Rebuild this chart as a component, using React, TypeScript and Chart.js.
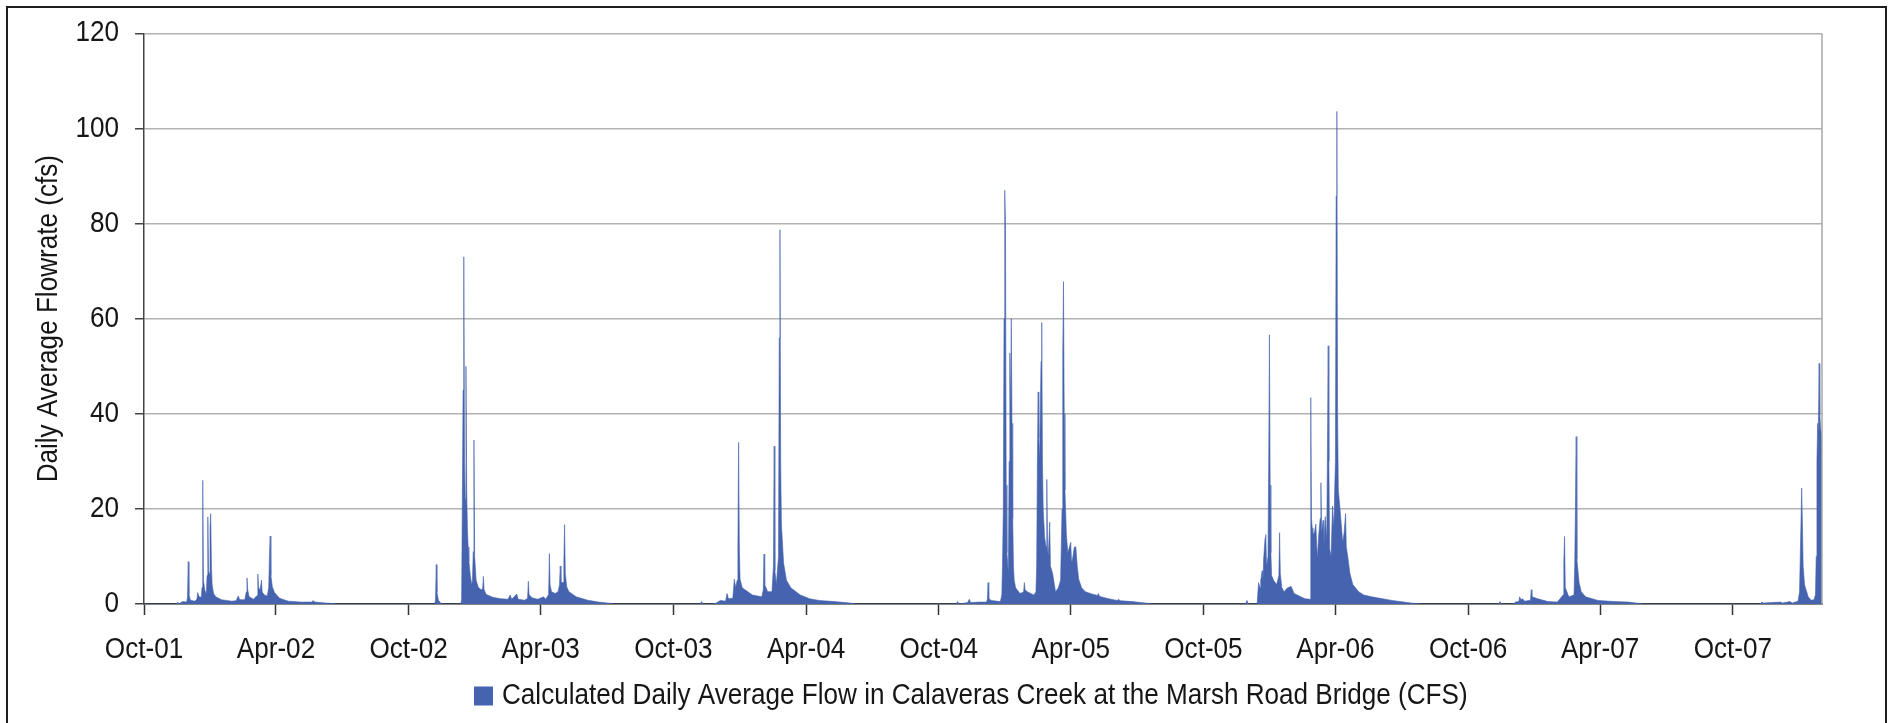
import React, { useEffect, useRef } from 'react';
import { Chart, registerables } from 'chart.js';

Chart.register(...registerables);

const SERIES_LABEL = 'Calculated Daily Average Flow in Calaveras Creek at the Marsh Road Bridge (CFS)';
const Y_TITLE = 'Daily Average Flowrate (cfs)';
const START_DATE = '2001-10-01';
const END_DATE = '2008-02-01';

const Y_MIN = 0;
const Y_MAX = 120;
const Y_STEP = 20;

const tickDates = [
  '2001-10-01', '2002-04-01', '2002-10-01', '2003-04-01', '2003-10-01', '2004-04-01', '2004-10-01',
  '2005-04-01', '2005-10-01', '2006-04-01', '2006-10-01', '2007-04-01', '2007-10-01',
];
const tickLabels = [
  'Oct-01', 'Apr-02', 'Oct-02', 'Apr-03', 'Oct-03', 'Apr-04', 'Oct-04',
  'Apr-05', 'Oct-05', 'Apr-06', 'Oct-06', 'Apr-07', 'Oct-07',
];

// Water year 2002
const wy2002Dates = [
  '2001-10-01', '2001-11-14', '2001-11-16', '2001-11-19', '2001-11-23', '2001-11-29', '2001-11-30',
  '2001-12-01', '2001-12-02', '2001-12-04', '2001-12-10', '2001-12-13', '2001-12-14', '2001-12-16',
  '2001-12-19', '2001-12-20', '2001-12-21', '2001-12-22', '2001-12-24', '2001-12-26', '2001-12-27',
  '2001-12-28', '2001-12-29', '2001-12-30', '2001-12-31', '2002-01-01', '2002-01-02', '2002-01-03',
  '2002-01-05', '2002-01-08', '2002-01-16', '2002-01-30', '2002-02-05', '2002-02-08', '2002-02-10',
  '2002-02-17', '2002-02-19', '2002-02-20', '2002-02-21', '2002-02-23', '2002-03-01', '2002-03-06',
  '2002-03-07', '2002-03-08', '2002-03-10', '2002-03-12', '2002-03-13', '2002-03-16', '2002-03-20',
  '2002-03-22', '2002-03-23', '2002-03-24', '2002-03-25', '2002-03-27', '2002-03-30', '2002-04-06',
  '2002-04-18', '2002-05-05', '2002-05-20', '2002-05-22', '2002-05-25', '2002-06-05', '2002-06-21',
  '2002-06-25',
];
const wy2002Flow = [
  0, 0, 0.3, 0.1, 0.5, 0.4, 1.5,
  8.9, 2.0, 0.8, 0.6, 1.0, 2.4, 1.5,
  1.4, 3.5, 26, 5, 2.8, 2.2, 6,
  18.3, 7, 6.4, 16, 19, 8, 4,
  2.2, 1.5, 0.9, 0.6, 0.7, 1.7, 0.9,
  0.9, 2.5, 5.5, 3.0, 1.5, 1.0, 1.8,
  6.3, 3.5, 2.9, 5.0, 2.5, 1.9, 1.7,
  3.5, 10, 14.3, 6, 3.6, 2.4, 1.2,
  0.6, 0.4, 0.4, 0.7, 0.4, 0.25, 0.05,
  0,
];

// Water year 2003
const wy2003Dates = [
  '2002-10-01', '2002-11-06', '2002-11-07', '2002-11-08', '2002-11-09', '2002-11-11', '2002-11-15',
  '2002-12-12', '2002-12-13', '2002-12-14', '2002-12-15', '2002-12-16', '2002-12-17', '2002-12-18',
  '2002-12-19', '2002-12-20', '2002-12-21', '2002-12-22', '2002-12-23', '2002-12-25', '2002-12-27',
  '2002-12-28', '2002-12-29', '2002-12-30', '2002-12-31', '2003-01-02', '2003-01-05', '2003-01-09',
  '2003-01-11', '2003-01-12', '2003-01-13', '2003-01-16', '2003-01-25', '2003-02-05', '2003-02-15',
  '2003-02-18', '2003-02-20', '2003-02-27', '2003-03-01', '2003-03-10', '2003-03-14', '2003-03-15',
  '2003-03-16', '2003-03-20', '2003-03-28', '2003-04-05', '2003-04-08', '2003-04-12', '2003-04-13',
  '2003-04-14', '2003-04-16', '2003-04-21', '2003-04-25', '2003-04-27', '2003-04-28', '2003-04-29',
  '2003-05-02', '2003-05-03', '2003-05-04', '2003-05-05', '2003-05-07', '2003-05-10', '2003-05-20',
  '2003-06-05', '2003-06-20', '2003-07-05', '2003-07-10',
];
const wy2003Flow = [
  0, 0, 1.0, 8.3, 2.5, 0.8, 0,
  0, 1.0, 22, 45, 73, 30, 22,
  50, 24, 16, 12, 9, 6, 4,
  5, 11, 34.5, 10, 5, 3.5, 3,
  3.2, 5.8, 3, 2, 1.4, 1.1, 1.0,
  1.9, 1.0, 2.1, 1.0, 0.8, 1.2, 4.8,
  2.0, 1.3, 1.0, 1.5, 1.0, 2.0, 10.6,
  4, 2.6, 2.2, 2.6, 4, 8, 4.5,
  4.5, 9, 16.7, 6.4, 3.6, 2.6, 1.5,
  0.8, 0.4, 0.15, 0,
];

// Water year 2004
const wy2004Dates = [
  '2003-10-01', '2003-11-07', '2003-11-09', '2003-11-11', '2003-11-25', '2003-11-29', '2003-12-05',
  '2003-12-12', '2003-12-14', '2003-12-16', '2003-12-22', '2003-12-24', '2003-12-26', '2003-12-28',
  '2003-12-29', '2003-12-30', '2003-12-31', '2004-01-01', '2004-01-04', '2004-01-18', '2004-01-31',
  '2004-02-02', '2004-02-03', '2004-02-04', '2004-02-08', '2004-02-14', '2004-02-16', '2004-02-17',
  '2004-02-18', '2004-02-20', '2004-02-23', '2004-02-24', '2004-02-25', '2004-02-26', '2004-02-27',
  '2004-03-01', '2004-03-05', '2004-03-11', '2004-03-24', '2004-04-06', '2004-04-19', '2004-05-10',
  '2004-06-01', '2004-06-08',
];
const wy2004Flow = [
  0, 0, 0.5, 0, 0, 0.2, 0.75,
  0.6, 2.2, 1.1, 1.2, 5.2, 3.4, 5,
  12, 34, 12, 5.2, 3.4, 1.9, 1.5,
  3, 10.5, 4.1, 2.6, 2.6, 8, 33.2,
  7, 4.1, 10, 56, 78.7, 30, 16.8,
  8.6, 5, 3.4, 1.9, 1.1, 0.75, 0.5,
  0.2, 0,
];

// Water year 2005
const wy2005Dates = [
  '2004-10-01', '2004-10-25', '2004-10-27', '2004-10-29', '2004-11-10', '2004-11-12', '2004-11-14',
  '2004-11-25', '2004-12-06', '2004-12-07', '2004-12-08', '2004-12-09', '2004-12-12', '2004-12-25',
  '2004-12-27', '2004-12-28', '2004-12-29', '2004-12-30', '2004-12-31', '2005-01-01', '2005-01-02',
  '2005-01-03', '2005-01-05', '2005-01-06', '2005-01-07', '2005-01-08', '2005-01-09', '2005-01-10',
  '2005-01-11', '2005-01-12', '2005-01-13', '2005-01-15', '2005-01-21', '2005-01-26', '2005-01-27',
  '2005-01-28', '2005-01-31', '2005-02-09', '2005-02-12', '2005-02-13', '2005-02-14', '2005-02-15',
  '2005-02-16', '2005-02-17', '2005-02-18', '2005-02-19', '2005-02-20', '2005-02-21', '2005-02-22',
  '2005-02-24', '2005-02-26', '2005-02-27', '2005-02-28', '2005-03-01', '2005-03-03', '2005-03-04',
  '2005-03-07', '2005-03-11', '2005-03-15', '2005-03-18', '2005-03-20', '2005-03-21', '2005-03-22',
  '2005-03-23', '2005-03-24', '2005-03-26', '2005-03-28', '2005-04-01', '2005-04-02', '2005-04-03',
  '2005-04-06', '2005-04-08', '2005-04-10', '2005-04-12', '2005-04-16', '2005-04-21', '2005-04-30',
  '2005-05-08', '2005-05-09', '2005-05-11', '2005-05-23', '2005-06-04', '2005-06-06', '2005-06-08',
  '2005-06-25', '2005-07-13', '2005-07-22',
];
const wy2005Flow = [
  0, 0, 0.5, 0, 0.3, 1.0, 0.3,
  0.4, 0.4, 1.0, 4.5, 1.2, 0.75, 0.5,
  2, 9.4, 20, 60, 87, 80, 25,
  10.8, 6.4, 30, 52.8, 40, 60, 38,
  18, 8, 5, 3.4, 2.2, 2.5, 4.5,
  3, 2.6, 1.9, 2.5, 8, 30, 44.6,
  35, 30, 40, 51, 59.2, 30, 20,
  14, 12, 26.2, 12, 10, 17.2, 8,
  6.4, 2.6, 3.4, 5, 20, 53, 67.8,
  40, 24, 14.6, 10.8, 13, 9, 9,
  12, 12, 7.9, 5.2, 3.4, 2.6, 2.1,
  1.8, 2.2, 1.6, 1.1, 0.75, 1.0, 0.7,
  0.5, 0.2, 0,
];

// Water year 2006
const wy2006Dates = [
  '2005-10-01', '2005-11-28', '2005-11-30', '2005-12-02', '2005-12-14', '2005-12-16', '2005-12-18',
  '2005-12-19', '2005-12-21', '2005-12-22', '2005-12-23', '2005-12-25', '2005-12-26', '2005-12-27',
  '2005-12-29', '2005-12-30', '2005-12-31', '2006-01-01', '2006-01-02', '2006-01-03', '2006-01-06',
  '2006-01-10', '2006-01-13', '2006-01-14', '2006-01-15', '2006-01-17', '2006-01-20', '2006-01-25',
  '2006-01-30', '2006-02-03', '2006-02-18', '2006-02-25', '2006-02-26', '2006-02-27', '2006-02-28',
  '2006-03-01', '2006-03-03', '2006-03-05', '2006-03-07', '2006-03-09', '2006-03-11', '2006-03-12',
  '2006-03-13', '2006-03-15', '2006-03-16', '2006-03-18', '2006-03-20', '2006-03-21', '2006-03-22',
  '2006-03-23', '2006-03-24', '2006-03-26', '2006-03-28', '2006-03-30', '2006-03-31', '2006-04-01',
  '2006-04-02', '2006-04-03', '2006-04-04', '2006-04-05', '2006-04-07', '2006-04-09', '2006-04-11',
  '2006-04-13', '2006-04-15', '2006-04-16', '2006-04-18', '2006-04-21', '2006-04-25', '2006-05-03',
  '2006-05-10', '2006-05-21', '2006-06-18', '2006-07-15', '2006-07-29',
];
const wy2006Flow = [
  0, 0, 0.75, 0, 0, 4.5, 3.4,
  5, 7, 4, 9.4, 13.9, 14.6, 7.9,
  10, 29.6, 56.6, 25, 10.8, 6, 4.9,
  4.1, 6, 15, 6.4, 3.5, 2.6, 3.4,
  3.7, 2.2, 1.1, 1.0, 43.4, 18, 16,
  14.6, 15, 16.8, 9.4, 14.6, 18, 25.5,
  15, 17.6, 11.6, 18.4, 13, 32.6, 54.3,
  30, 11.6, 10, 20.6, 16, 24, 30,
  85.8, 103.6, 40, 24, 20.6, 16.8, 13,
  15, 19, 12, 10, 6.4, 4.1, 2.6,
  1.9, 1.5, 0.75, 0.2, 0,
];

// Water year 2007
const wy2007Dates = [
  '2006-10-01', '2006-11-12', '2006-11-14', '2006-11-16', '2006-12-03', '2006-12-05', '2006-12-10',
  '2006-12-11', '2006-12-13', '2006-12-15', '2006-12-18', '2006-12-26', '2006-12-27', '2006-12-28',
  '2007-01-05', '2007-01-19', '2007-02-01', '2007-02-09', '2007-02-10', '2007-02-11', '2007-02-12',
  '2007-02-17', '2007-02-24', '2007-02-25', '2007-02-26', '2007-02-27', '2007-02-28', '2007-03-03',
  '2007-03-06', '2007-03-12', '2007-03-29', '2007-04-21', '2007-05-10', '2007-05-31',
];
const wy2007Flow = [
  0, 0, 0.5, 0, 0, 0.4, 0.5,
  1.5, 0.9, 1.1, 0.6, 0.8, 3, 1.5,
  1.1, 0.5, 0.4, 1.9, 9.4, 14.2, 3.4,
  1.5, 1.9, 7.9, 20.6, 35.2, 9.4, 4.5,
  2.6, 1.5, 0.75, 0.5, 0.4, 0,
];

// Water year 2008 (through February 1)
const wy2008Dates = [
  '2007-10-01', '2007-11-08', '2007-11-10', '2007-11-12', '2007-12-06', '2007-12-08', '2007-12-19',
  '2007-12-22', '2007-12-30', '2008-01-01', '2008-01-03', '2008-01-04', '2008-01-05', '2008-01-06',
  '2008-01-08', '2008-01-10', '2008-01-13', '2008-01-17', '2008-01-21', '2008-01-23', '2008-01-24',
  '2008-01-25', '2008-01-26', '2008-01-27', '2008-01-28', '2008-01-29', '2008-01-30', '2008-01-31',
  '2008-02-01',
];
const wy2008Flow = [
  0, 0, 0.4, 0.2, 0.4, 0.2, 0.5,
  0.2, 0.6, 2.6, 17, 24.4, 17, 8,
  4, 3, 1.5, 0.8, 0.9, 2, 10,
  30, 38, 36, 50.6, 40, 37, 36,
  34.4,
];

const FLOW_COLOR = '#4563ae';
const FONT_FAMILY = "'Liberation Sans', Arial, Helvetica, sans-serif";
const FONT_SIZE = 29;
const TEXT_COLOR = '#161616';
// Horizontal squeeze applied to every label, giving the narrow lettering
const TEXT_SQUEEZE = 0.9;

function dayIndex(iso: string): number {
  const [y, m, d] = iso.split('-').map(Number);
  const [y0, m0, d0] = START_DATE.split('-').map(Number);
  return Math.round((Date.UTC(y, m - 1, d) - Date.UTC(y0, m0 - 1, d0)) / 86400000);
}

const allDates = [
  ...wy2002Dates, ...wy2003Dates, ...wy2004Dates, ...wy2005Dates,
  ...wy2006Dates, ...wy2007Dates, ...wy2008Dates,
];
const allFlow = [
  ...wy2002Flow, ...wy2003Flow, ...wy2004Flow, ...wy2005Flow,
  ...wy2006Flow, ...wy2007Flow, ...wy2008Flow,
];

// Draw and measure text narrower than the installed face, about its anchor point
function condenseText(ctx: CanvasRenderingContext2D, sx: number) {
  const fill = ctx.fillText.bind(ctx);
  const measure = ctx.measureText.bind(ctx);
  (ctx as any).fillText = (text: string, x: number, y: number, maxWidth?: number) => {
    ctx.save();
    ctx.translate(x, y);
    ctx.scale(sx, 1);
    if (maxWidth === undefined || maxWidth === null) fill(text, 0, 0);
    else fill(text, 0, 0, maxWidth / sx);
    ctx.restore();
  };
  (ctx as any).measureText = (text: string) => {
    const m = measure(text);
    return {
      width: m.width * sx,
      actualBoundingBoxAscent: m.actualBoundingBoxAscent,
      actualBoundingBoxDescent: m.actualBoundingBoxDescent,
      actualBoundingBoxLeft: m.actualBoundingBoxLeft * sx,
      actualBoundingBoxRight: m.actualBoundingBoxRight * sx,
      fontBoundingBoxAscent: m.fontBoundingBoxAscent,
      fontBoundingBoxDescent: m.fontBoundingBoxDescent,
    };
  };
}

// White page, outer frame and the grey right edge of the plot area
const framePlugin = {
  id: 'chartFrame',
  beforeDraw(chart: any) {
    const { ctx, width, height } = chart;
    ctx.save();
    ctx.fillStyle = '#ffffff';
    ctx.fillRect(0, 0, width, height);
    ctx.strokeStyle = '#1e1e1e';
    ctx.lineWidth = 2;
    ctx.beginPath();
    ctx.moveTo(7, height + 2);
    ctx.lineTo(7, 7);
    ctx.lineTo(width - 7, 7);
    ctx.lineTo(width - 7, height + 2);
    ctx.stroke();
    ctx.restore();
  },
  afterDatasetsDraw(chart: any) {
    const { ctx, chartArea } = chart;
    ctx.save();
    ctx.strokeStyle = '#a8a8a8';
    ctx.lineWidth = 1.5;
    ctx.beginPath();
    ctx.moveTo(chartArea.right, chartArea.top);
    ctx.lineTo(chartArea.right, chartArea.bottom);
    ctx.stroke();
    ctx.restore();
  },
};

// Single-entry legend under the axis labels
const legendPlugin = {
  id: 'bottomLegend',
  afterDraw(chart: any) {
    const { ctx } = chart;
    const ds = chart.data.datasets[0];
    ctx.save();
    ctx.font = `${FONT_SIZE}px ${FONT_FAMILY}`;
    const textW = ctx.measureText(ds.label).width;
    const box = 19;
    const gap = 9;
    const total = box + gap + textW;
    const cx = 971;
    const cy = 696;
    const left = Math.round(cx - total / 2);
    ctx.fillStyle = ds.backgroundColor;
    ctx.fillRect(left, cy - box / 2, box, box);
    ctx.fillStyle = TEXT_COLOR;
    ctx.textAlign = 'left';
    ctx.textBaseline = 'middle';
    ctx.fillText(ds.label, left + box + gap, cy);
    ctx.restore();
  },
};

export default function App() {
  const canvasRef = useRef<HTMLCanvasElement | null>(null);

  useEffect(() => {
    const canvas = canvasRef.current;
    if (!canvas) return;
    const ctx2d = canvas.getContext('2d');
    if (ctx2d) condenseText(ctx2d, TEXT_SQUEEZE);

    const points = allDates.map((d, i) => ({ x: dayIndex(d), y: allFlow[i] }));
    const tickFont = { family: FONT_FAMILY, size: FONT_SIZE };

    const chart = new Chart(canvas, {
      type: 'line',
      data: {
        datasets: [
          {
            label: SERIES_LABEL,
            data: points,
            fill: 'origin',
            backgroundColor: FLOW_COLOR,
            borderColor: FLOW_COLOR,
            borderWidth: 0.6,
            pointRadius: 0,
            tension: 0,
          },
        ],
      },
      options: {
        responsive: false,
        animation: false,
        devicePixelRatio: 1,
        layout: { padding: { left: 0, right: 71, top: 33, bottom: 0 } },
        plugins: {
          legend: { display: false },
          tooltip: { enabled: false },
        },
        scales: {
          x: {
            type: 'linear',
            z: 1,
            min: 0,
            max: dayIndex(END_DATE),
            afterBuildTicks: (scale: any) => {
              scale.ticks = tickDates.map((d) => ({ value: dayIndex(d) }));
            },
            afterFit: (scale: any) => {
              scale.height = 119;
            },
            grid: {
              drawOnChartArea: false,
              drawTicks: true,
              tickLength: 11,
              tickColor: '#333333',
              tickWidth: 1.5,
            },
            border: { display: true, color: '#333333', width: 1.5 },
            ticks: {
              autoSkip: false,
              maxRotation: 0,
              minRotation: 0,
              padding: 18,
              color: TEXT_COLOR,
              font: tickFont,
              callback: (_v: any, i: number) => tickLabels[i],
            },
          },
          y: {
            min: Y_MIN,
            max: Y_MAX,
            afterFit: (scale: any) => {
              scale.width = 144;
            },
            grid: {
              color: '#b2b2b2',
              lineWidth: 1.5,
              tickColor: '#444444',
              tickLength: 9,
              tickWidth: 1.5,
            },
            border: { display: true, color: '#444444', width: 1.5 },
            ticks: {
              stepSize: Y_STEP,
              padding: 16,
              color: TEXT_COLOR,
              font: tickFont,
            },
            title: {
              display: true,
              text: Y_TITLE,
              color: TEXT_COLOR,
              font: { family: FONT_FAMILY, size: FONT_SIZE },
              padding: { top: 32, bottom: 0 },
            },
          },
        },
      },
      plugins: [framePlugin, legendPlugin],
    } as any);

    return () => chart.destroy();
  }, []);

  return (
    <div style={{ position: 'fixed', left: 0, top: 0, width: 1893, height: 723, background: '#fff', overflow: 'hidden' }}>
      <canvas ref={canvasRef} width={1893} height={723} style={{ display: 'block', width: 1893, height: 723 }} />
    </div>
  );
}
